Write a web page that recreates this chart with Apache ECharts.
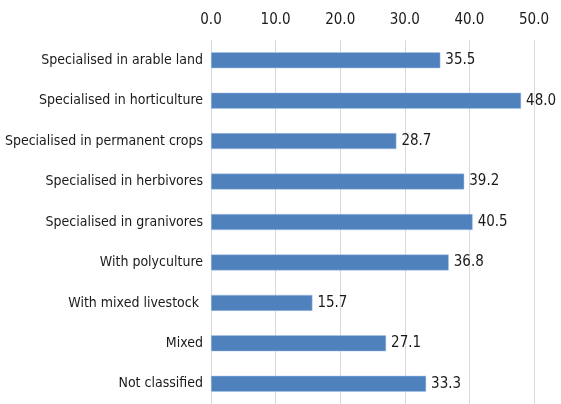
<!DOCTYPE html>
<html>
<head>
<meta charset="utf-8">
<script src="https://cdn.jsdelivr.net/npm/echarts@6/dist/echarts.min.js"></script>
<style>
  html, body { margin: 0; padding: 0; background: #fff; }
  #chart { width: 561px; height: 404px; }
</style>
</head>
<body>
<div id="chart"></div>
<script>
  // categories, top to bottom
  var categories = [
    'Specialised in arable land',
    'Specialised in horticulture',
    'Specialised in permanent crops',
    'Specialised in herbivores',
    'Specialised in granivores',
    'With polyculture',
    'With mixed livestock ',
    'Mixed',
    'Not classified'
  ];
  var values = [35.5, 48.0, 28.7, 39.2, 40.5, 36.8, 15.7, 27.1, 33.3];
  var xTicks = [0, 10, 20, 30, 40, 50];

  var font = '"Liberation Sans Narrow", "DejaVu Sans Condensed", sans-serif';

  var chart = echarts.init(document.getElementById('chart'));
  chart.setOption({
    animation: false,
    grid: { left: 211, right: 27, top: 40, bottom: 0, containLabel: false, outerBoundsMode: 'none' },
    xAxis: {
      type: 'value',
      position: 'top',
      min: xTicks[0],
      max: xTicks[xTicks.length - 1],
      interval: 10,
      axisLine: { show: false },
      axisTick: { show: false },
      axisLabel: {
        color: '#1a1a1a', fontFamily: font, fontSize: 15, margin: 12,
        formatter: function (v) { return v.toFixed(1); }
      },
      splitLine: { show: true, lineStyle: { color: '#d9d9d9', width: 1 } }
    },
    yAxis: {
      type: 'category',
      data: categories,
      inverse: true,
      axisLine: { show: true, lineStyle: { color: '#d9d9d9' } },
      axisTick: { show: false },
      axisLabel: { color: '#1a1a1a', fontFamily: font, fontSize: 14, margin: 8 }
    },
    series: [{
      type: 'bar',
      data: values,
      barWidth: 16,
      itemStyle: { color: '#4f81bd', borderColor: '#a9c4e6', borderWidth: 0.5 },
      label: {
        show: true, position: 'right', distance: 5,
        color: '#1a1a1a', fontFamily: font, fontSize: 15,
        formatter: function (p) { return p.value.toFixed(1); }
      }
    }]
  });
</script>
</body>
</html>
